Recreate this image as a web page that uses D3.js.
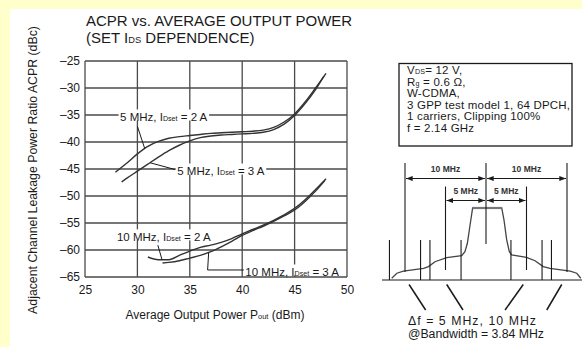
<!DOCTYPE html>
<html><head><meta charset="utf-8">
<script src="https://cdn.jsdelivr.net/npm/d3@7"></script>
<style>
html,body{margin:0;padding:0;background:#fff;}
svg{display:block;font-family:"Liberation Sans",Arial,Helvetica,sans-serif;}
</style></head><body>
<svg id="chart" width="582" height="347"></svg>
<script>
// Axis ticks
const xTicks = [25, 30, 35, 40, 45, 50];
const yTicks = [-25, -30, -35, -40, -45, -50, -55, -60, -65];

// ACPR vs. Pout: [Pout (dBm), ACPR (dBc)]
const acpr5MHz2A = [[27.9,-45.6],[29,-43.9],[30,-42.2],[31,-40.8],[32,-39.9],[33,-39.3],[34,-39.0],[35,-38.8],[36,-38.6],[37,-38.4],[38,-38.3],[39,-38.2],[40,-38.1],[41,-38.0],[42,-37.8],[43,-37.3],[44,-36.3],[45,-34.8],[46,-32.6],[47,-30.0],[48,-27.3]];
const acpr5MHz3A = [[28.5,-47.4],[29,-46.7],[30,-45.4],[31,-44.1],[32,-42.8],[33,-41.6],[34,-40.6],[35,-39.8],[36,-39.2],[37,-38.9],[38,-38.7],[39,-38.6],[40,-38.5],[41,-38.4],[42,-38.2],[43,-37.7],[44,-36.7],[45,-35.1],[46,-32.9],[47,-30.3],[47.8,-27.8]];
const acpr10MHz2A = [[31.0,-61.3],[32,-61.8],[33,-61.8],[34,-61.0],[35,-60.2],[36,-59.5],[37,-59.1],[38,-58.6],[39,-57.9],[40,-57.0],[41,-56.2],[42,-55.4],[43,-54.5],[44,-53.5],[45,-52.3],[46,-50.7],[47,-48.8],[48,-46.8]];
const acpr10MHz3A = [[32.4,-62.4],[33,-62.3],[34,-62.0],[35,-61.5],[36,-61.0],[37,-60.3],[38,-59.4],[39,-58.4],[40,-57.3],[41,-56.4],[42,-55.6],[43,-54.7],[44,-53.7],[45,-52.6],[46,-51.0],[47,-49.1],[47.9,-47.1]];

// Spectrum sketch: [offset from carrier (MHz), relative level (dB)]
const spectrumOutline = [[-11.64,-48.8],[-11.0,-45.3],[-10.2,-43.8],[-7.7,-41.9],[-7.1,-40.7],[-6.3,-37.3],[-4.85,-34.5],[-3.0,-33.1],[-2.6,-30.3],[-2.3,-24.5],[-2.0,-13.0],[-1.65,0],[1.94,0],[2.22,-8.3],[2.55,-22.0],[2.88,-30.3],[3.17,-32.6],[5.0,-34.3],[6.05,-36.6],[7.07,-40.7],[7.9,-41.9],[10.4,-43.8],[11.2,-45.3],[11.7,-48.8]];
const integrationEdges = [-11.92, -8.08, -6.92, -3.08, 3.08, 6.92, 8.08, 11.92];
const offsetMarkers = [-10, -5, 5, 10];
const pointerTargets = [[-7.45, -9.5], [-2.84, -4.85], [2.35, 4.6], [7.5, 9.35]];

// Measurement conditions, one entry per line; second element of a part flags a subscript
const conditions = [
  [["V"], ["DS", "sub"], ["= 12 V,"]],
  [["R"], ["g", "sub"], [" = 0.6 \u03A9,"]],
  [["W-CDMA,"]],
  [["3 GPP test model 1, 64 DPCH,"]],
  [["1 carriers, Clipping 100%"]],
  [["f = 2.14 GHz"]]
];

const svg = d3.select("#chart");
const ink = "#1a1a1a";
const gridInk = "#4a4a4a";

// Page background: pale yellow margin on the top and left
svg.append("rect").attr("width", 582).attr("height", 347).attr("fill", "#ffffcc");
svg.append("rect").attr("x", 10).attr("y", 9).attr("width", 572).attr("height", 338).attr("fill", "#fff");

// Arrowhead marker
const defs = svg.append("defs");
defs.append("marker").attr("id", "arr").attr("viewBox", "0 0 8 6")
  .attr("refX", 8).attr("refY", 3).attr("markerWidth", 7).attr("markerHeight", 5)
  .attr("markerUnits", "userSpaceOnUse").attr("orient", "auto-start-reverse")
  .append("path").attr("d", "M0,0L8,3L0,6Z").attr("fill", ink);

// Rich text helper: plain and subscript (same baseline, smaller) parts
function rich(sel, parts, size) {
  parts.forEach(p => {
    sel.append("tspan").text(p[0]).attr("font-size", p[1] === "sub" ? size * 0.62 : size);
  });
  return sel;
}

// ---------- Main chart ----------
const x = d3.scaleLinear().domain([25, 50]).range([85, 347]);
const y = d3.scaleLinear().domain([-65, -25]).range([277, 61]);

// Title
svg.append("text").attr("x", 86).attr("y", 26).attr("fill", ink).attr("font-size", 15)
  .text("ACPR vs. AVERAGE OUTPUT POWER");
rich(svg.append("text").attr("x", 86).attr("y", 43).attr("fill", ink),
  [["(SET I"], ["DS", "sub"], [" DEPENDENCE)"]], 15);

// Grid
const grid = svg.append("g").attr("stroke", gridInk).attr("stroke-width", 1.3);
grid.selectAll("line.h").data(yTicks).join("line")
  .attr("x1", x(25)).attr("x2", x(50)).attr("y1", d => y(d)).attr("y2", d => y(d));
grid.selectAll("line.v").data(xTicks).join("line")
  .attr("y1", y(-25)).attr("y2", y(-65)).attr("x1", d => x(d)).attr("x2", d => x(d));

// Axes (labels only; the frame comes from the grid)
const fmt = d => d < 0 ? "\u2013" + Math.abs(d) : String(d);
const yAxis = svg.append("g").attr("transform", `translate(${x(25)},0)`)
  .call(d3.axisLeft(y).tickValues(yTicks).tickSize(0).tickPadding(5).tickFormat(fmt));
const xAxis = svg.append("g").attr("transform", `translate(0,${y(-65)})`)
  .call(d3.axisBottom(x).tickValues(xTicks).tickSize(0).tickPadding(8).tickFormat(fmt));
[yAxis, xAxis].forEach(a => {
  a.select(".domain").remove();
  a.selectAll("text").attr("font-size", 12).attr("fill", ink)
    .attr("font-family", "Liberation Sans, Arial, sans-serif");
});

// Axis titles
rich(svg.append("text").attr("x", 215).attr("y", 319).attr("text-anchor", "middle").attr("fill", ink),
  [["Average Output Power  P"], ["out", "sub"], [" (dBm)"]], 12);
svg.append("text").attr("transform", "translate(37,170) rotate(-90)")
  .attr("text-anchor", "middle").attr("font-size", 12.3).attr("fill", ink)
  .text("Adjacent Channel Leakage Power Ratio ACPR (dBc)");

// Curves
const line = d3.line().x(d => x(d[0])).y(d => y(d[1])).curve(d3.curveMonotoneX);
[acpr5MHz2A, acpr5MHz3A, acpr10MHz2A, acpr10MHz3A].forEach(s => {
  svg.append("path").attr("d", line(s)).attr("fill", "none")
    .attr("stroke", "#333").attr("stroke-width", 1.4);
});

// Value on a series at a given Pout (linear between stored points)
function at(series, px) {
  for (let i = 1; i < series.length; i++) {
    const a = series[i - 1], b = series[i];
    if (px <= b[0]) return a[1] + (b[1] - a[1]) * (px - a[0]) / (b[0] - a[0]);
  }
  return series[series.length - 1][1];
}

// Curve labels with white backing so the grid breaks around them
function curveLabel(mhz, amps, px, py) {
  const g = svg.append("g");
  const bg = g.append("rect").attr("fill", "#fff");
  const t = rich(g.append("text").attr("x", x(px)).attr("y", y(py)).attr("dy", "0.36em").attr("fill", ink),
    [[mhz + " MHz, I"], ["Dset", "sub"], [" = " + amps + " A"]], 11.5);
  const b = t.node().getBBox();
  bg.attr("x", b.x - 1.5).attr("y", y(py) - 5.5).attr("width", b.width + 3).attr("height", 11);
  return b;
}
const leader = svg.append("g").attr("stroke", ink).attr("stroke-width", 1).attr("fill", "none");

curveLabel(5, 2, 28.35, -35);
leader.append("path").attr("d", d3.line()([[x(30.0), y(-37.1)], [x(30.7), y(at(acpr5MHz2A, 30.7))]]));

curveLabel(5, 3, 33.8, -45);
leader.append("path").attr("d", d3.line()([[x(33.6), y(-45.1)], [x(31.2), y(at(acpr5MHz3A, 31.2))]]));

curveLabel(10, 2, 28.05, -57.2);
leader.append("path").attr("d", d3.line()([[x(31.95), y(-59.1)], [x(32.35), y(at(acpr10MHz2A, 32.35))]]));

curveLabel(10, 3, 40.3, -63.7);
leader.append("path").attr("d", d3.line()([[x(36.8), y(at(acpr10MHz3A, 36.8))], [x(36.7), y(-63.7)], [x(40.2), y(-63.7)]]));

// ---------- Conditions box ----------
svg.append("rect").attr("x", 399).attr("y", 63.5).attr("width", 173).attr("height", 82.5)
  .attr("fill", "#fff").attr("stroke", ink).attr("stroke-width", 1.3);
conditions.forEach((parts, i) => {
  rich(svg.append("text").attr("x", 407).attr("y", 74 + i * 11.5).attr("fill", ink)
    .attr("letter-spacing", 0.2), parts, 11.5);
});

// ---------- Spectrum sketch ----------
const sx = d3.scaleLinear().domain([-10, 10]).range([405, 567]);
const sy = d3.scaleLinear().domain([-50, 0]).range([280, 208]);
const sk = svg.append("g").attr("stroke", ink).attr("fill", "none");

// baseline
sk.append("line").attr("x1", 382).attr("x2", 582).attr("y1", sy(-50)).attr("y2", sy(-50)).attr("stroke-width", 1.2);
// outline
sk.append("path").attr("d", d3.line().x(d => sx(d[0])).y(d => sy(d[1])).curve(d3.curveLinear)(spectrumOutline))
  .attr("stroke", "#444").attr("stroke-width", 1.3);
// flat carrier top, heavier
sk.append("line").attr("x1", sx(-1.65)).attr("x2", sx(1.94)).attr("y1", sy(0)).attr("y2", sy(0))
  .attr("stroke", "#777").attr("stroke-width", 2.2);
// integration band edges
sk.selectAll("line.edge").data(integrationEdges).join("line")
  .attr("x1", d => sx(d)).attr("x2", d => sx(d)).attr("y1", 240).attr("y2", sy(-50)).attr("stroke-width", 1.1);
// offset markers and carrier centre
sk.selectAll("line.off").data(offsetMarkers).join("line")
  .attr("x1", d => sx(d)).attr("x2", d => sx(d))
  .attr("y1", d => Math.abs(d) === 10 ? 163 : 186.5).attr("y2", d => Math.abs(d) === 10 ? 272 : 270)
  .attr("stroke-width", 1.1);
sk.append("line").attr("x1", sx(0)).attr("x2", sx(0)).attr("y1", 163).attr("y2", 244).attr("stroke-width", 1.1);

// dimension arrows
const dims = [[-10, 0, 178.5, "10 MHz"], [0, 10, 178.5, "10 MHz"], [-5, 0, 200.5, "5 MHz"], [0, 5, 200.5, "5 MHz"]];
dims.forEach(([a, b, yy, lab]) => {
  sk.append("line").attr("x1", sx(a) + 1).attr("x2", sx(b) - 1).attr("y1", yy).attr("y2", yy)
    .attr("stroke-width", 1).attr("marker-start", "url(#arr)").attr("marker-end", "url(#arr)");
  svg.append("text").attr("x", sx((a + b) / 2)).attr("y", yy - 6.5).attr("text-anchor", "middle")
    .attr("font-size", 8.5).attr("font-weight", "bold").attr("fill", "#333").text(lab);
});

// pointers from the caption to the measurement bands
pointerTargets.forEach(([from, to]) => {
  sk.append("line").attr("x1", sx(from)).attr("y1", 310).attr("x2", sx(to)).attr("y2", 284.5)
    .attr("stroke-width", 1.5);
});

svg.append("text").attr("x", 408).attr("y", 325).attr("font-size", 12.3).attr("fill", ink)
  .attr("textLength", 128).attr("lengthAdjust", "spacing").text("\u0394f = 5 MHz, 10 MHz");
svg.append("text").attr("x", 408).attr("y", 338).attr("font-size", 12.3).attr("fill", ink)
  .attr("textLength", 136).attr("lengthAdjust", "spacing").text("@Bandwidth = 3.84 MHz");
</script>
</body></html>
